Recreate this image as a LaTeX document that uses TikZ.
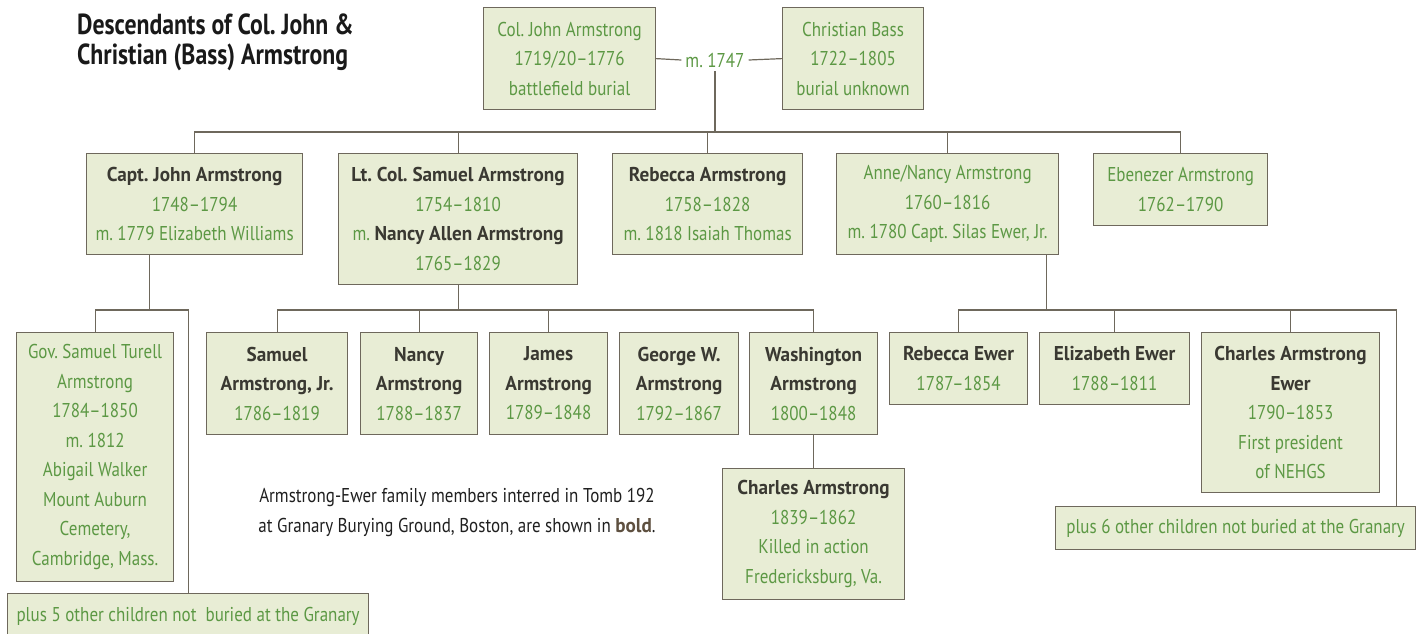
\documentclass[tikz,border=0pt]{standalone}
\usepackage{fontspec}
\setmainfont{PT Sans}[FakeStretch=0.85, BoldFeatures={FakeStretch=0.96}]
\newfontfamily\headfont{PT Sans}[FakeStretch=0.82, BoldFeatures={FakeStretch=0.82}]
\usetikzlibrary{calc}
\definecolor{boxfill}{RGB}{232,237,213}
\definecolor{boxline}{RGB}{110,104,92}
\definecolor{leaf}{RGB}{92,152,68}
\definecolor{ink}{RGB}{58,57,50}
\definecolor{bolder}{RGB}{94,80,64}
\tikzset{
  person/.style={draw=boxline, fill=boxfill, line width=1.2pt, anchor=north west, align=center, inner sep=0pt, text=leaf, font=\fontsize{20}{29.5}\selectfont},
  wh/.style 2 args={minimum width=#1pt, minimum height=#2pt},
  link/.style={draw=boxline, line width=1.2pt},
}
\newcommand{\nm}[1]{\textbf{\color{ink}#1}}
\frenchspacing
\begin{document}
\begin{tikzpicture}[x=1pt,y=-1pt]
\useasboundingbox (0,0) rectangle (1418,633);

\node[anchor=north west, align=left, inner sep=0pt, text=black!90, font=\headfont\bfseries\fontsize{29}{30}\selectfont] (title) at (77,14) {Descendants of Col. John \&\\Christian (Bass) Armstrong};

\node[person, wh={172}{102}] (cj) at (483,7) {Col. John Armstrong\\1719/20--1776\\battlefield burial};
\node[person, wh={141}{102}] (cb) at (782,7) {Christian Bass\\1722--1805\\burial unknown};
\node[text=leaf, inner sep=4pt, font=\fontsize{20}{24}\selectfont] (m1747) at (715,60) {m. 1747};

\node[person, wh={216}{101}] (capt) at (86,153) {\nm{Capt. John Armstrong}\\1748--1794\\m. 1779 Elizabeth Williams};
\node[person, wh={239}{131}] (samuel) at (338,153) {\nm{Lt. Col. Samuel Armstrong}\\1754--1810\\m. \nm{Nancy Allen Armstrong}\\1765--1829};
\node[person, wh={190}{101}] (rebecca) at (612,153) {\nm{Rebecca Armstrong}\\1758--1828\\m. 1818 Isaiah Thomas};
\node[person, wh={222}{101}] (anne) at (836,153) {Anne/Nancy Armstrong\\1760--1816\\m. 1780 Capt. Silas Ewer, Jr.};
\node[person, wh={174}{72}] (eben) at (1093,153) {Ebenezer Armstrong\\1762--1790};

\node[person, wh={157}{249}] (gov) at (16,332) {Gov. Samuel Turell\\Armstrong\\1784--1850\\m. 1812\\Abigail Walker\\Mount Auburn\\Cemetery,\\Cambridge, Mass.};
\node[person, wh={361}{45}] (plus5) at (7,593) {plus 5 other children not~ buried at the Granary};

\node[person, wh={141}{102}] (sjr) at (206,332) {\nm{Samuel}\\\nm{Armstrong, Jr.}\\1786--1819};
\node[person, wh={117}{102}] (nancy) at (360,332) {\nm{Nancy}\\\nm{Armstrong}\\1788--1837};
\node[person, wh={118}{102}] (james) at (489,332) {\nm{James}\\\nm{Armstrong}\\1789--1848};
\node[person, wh={119}{102}] (georgew) at (619,332) {\nm{George W.}\\\nm{Armstrong}\\1792--1867};
\node[person, wh={128}{102}] (wash) at (749,332) {\nm{Washington}\\\nm{Armstrong}\\1800--1848};
\node[person, wh={182}{131}] (charles) at (722,468) {\nm{Charles Armstrong}\\1839--1862\\Killed in action\\Fredericksburg, Va.};

\node[person, wh={138}{72}] (rebewer) at (889,332) {\nm{Rebecca Ewer}\\1787--1854};
\node[person, wh={150}{72}] (elizewer) at (1039,332) {\nm{Elizabeth Ewer}\\1788--1811};
\node[person, wh={178}{160}] (charlesewer) at (1201,332) {\nm{Charles Armstrong}\\\nm{Ewer}\\1790--1853\\First president\\of NEHGS};
\node[person, wh={360}{43}] (plus6) at (1055,506) {plus 6 other children not buried at the Granary};

\node[align=center, text=black!88, font=\fontsize{20}{30}\selectfont] (note) at (457,512) {Armstrong-Ewer family members interred in Tomb 192\\at Granary Burying Ground, Boston, are shown in {\color{bolder}\textbf{bold}}.};

\coordinate (bus1) at (0,132);
\coordinate (bus2) at (0,310);

\draw[link] (cj.east) -- (m1747.west);
\draw[link] (m1747.east) -- (cb.west);
\draw[link] (m1747.south) -- (m1747.south |- bus1);
\draw[link] (capt.north) |- (eben.north |- bus1) -- (eben.north);
\foreach \n in {samuel,rebecca,anne} \draw[link] (\n.north) -- (\n.north |- bus1);

\draw[link] ($(capt.south)+(-45,0)$) -- ($(capt.south |- bus2)+(-45,0)$);
\draw[link] (gov.north) |- (plus5.north |- bus2) -- (plus5.north);

\draw[link] (samuel.south) -- (samuel.south |- bus2);
\draw[link] (sjr.north) |- (wash.north |- bus2) -- (wash.north);
\foreach \n in {nancy,james} \draw[link] (\n.north) -- (\n.north |- bus2);
\draw[link] (wash.south) -- (charles.north);

\coordinate (drop6) at ($(plus6.north east)+(-20,0)$);
\draw[link] ($(anne.south)+(99,0)$) -- ($(anne.south |- bus2)+(99,0)$);
\draw[link] (rebewer.north) |- (drop6 |- bus2) -- (drop6);
\foreach \n in {elizewer,charlesewer} \draw[link] (\n.north) -- (\n.north |- bus2);
\end{tikzpicture}
\end{document}
